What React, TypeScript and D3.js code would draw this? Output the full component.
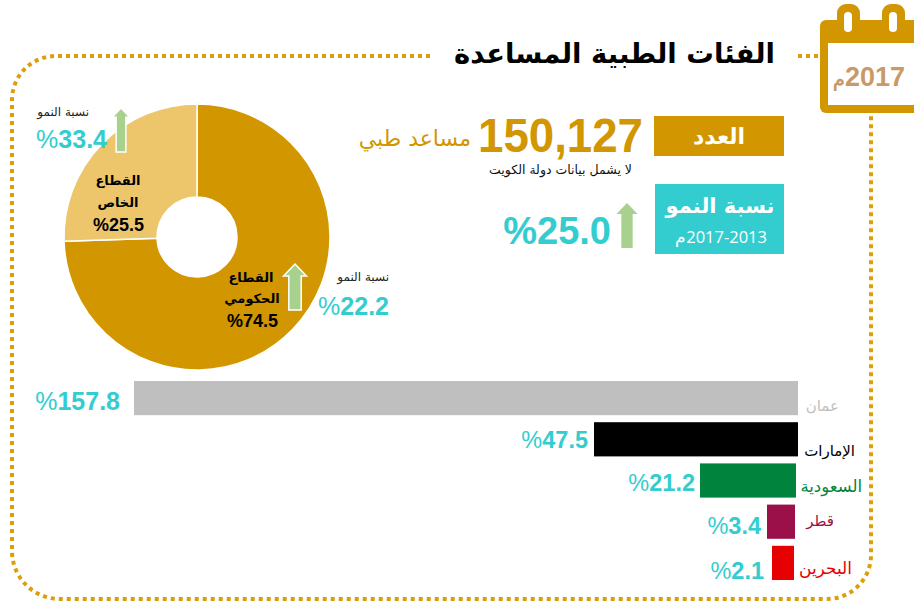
import * as d3 from "d3";
import React from "react";

const sectors = ["القطاع الحكومي", "القطاع الخاص"];
const sectorShare = [74.5, 25.5];
const sectorGrowth = [22.2, 33.4];

const countries = ["عمان", "الإمارات", "السعودية", "قطر", "البحرين"];
const countryGrowth = [157.8, 47.5, 21.2, 3.4, 2.1];
const countryColors = ["#bfbfbf", "#000000", "#00843d", "#9b1048", "#e60000"];

const total = "150,127";
const totalGrowth = 25.0;

const GOLD = "#d29600";
const TEAL = "#33cdcf";
const ARABIC = "'DejaVu Sans', 'Noto Sans', sans-serif";
const LATIN = "'Liberation Sans', Arial, sans-serif";

// bars are anchored to slightly different right edges in the original
const barRight = [798, 798, 796, 795, 794];
const labelGap = [14, 6, 5, 6, 8];
const valueDy = [29, 26, 28, 29, 33];
const labelX = [839, 855, 862, 834, 852];
const labelDy = [30, 34, 29, 21, 28];
const labelSize = [15, 15, 16.5, 15, 17];

const Arrow = ({x, y, w, h, stroke}: any) => {
  const head = w * 0.52;
  const shaft = w * 0.27;
  const path = d3.path();
  path.moveTo(x, y);
  path.lineTo(x + w / 2, y + head);
  path.lineTo(x + shaft, y + head);
  path.lineTo(x + shaft, y + h);
  path.lineTo(x - shaft, y + h);
  path.lineTo(x - shaft, y + head);
  path.lineTo(x - w / 2, y + head);
  path.closePath();
  return <path d={path.toString()} fill="#a9d18e" stroke={stroke} strokeWidth={stroke === "none" ? 0 : 1.5} />;
};

const Pct = ({x, y, size, value, signWeight = "400"}: any) => (
  <text x={x} y={y} textAnchor="end" fontFamily={LATIN} fill={TEAL} fontSize={size} fontWeight="700">
    <tspan fontWeight={signWeight}>%</tspan>{value.toFixed(1)}
  </text>
);

export default function App() {
  const pie = d3.pie<number>().sort(null)(sectorShare);
  const arc = d3.arc<d3.PieArcDatum<number>>().innerRadius(40).outerRadius(133);

  // the original bars are not to scale, so the scale follows their drawn lengths
  const barWidth = d3.scaleLinear()
    .domain([2.1, 3.4, 21.2, 47.5, 157.8])
    .range([22, 28, 96, 204, 664]);
  const barY = d3.scaleBand<number>()
    .domain(d3.range(countries.length))
    .range([381, 580])
    .paddingInner(0.17);

  const frame = d3.path();
  frame.moveTo(430, 56);
  frame.lineTo(56, 56);
  frame.arcTo(12, 56, 12, 100, 44);
  frame.lineTo(12, 551);
  frame.arcTo(12, 599, 60, 599, 48);
  frame.lineTo(827, 599);
  frame.arcTo(871, 599, 871, 555, 44);
  frame.lineTo(871, 115);

  return (
    <svg width={914} height={605} style={{position: "absolute", left: 0, top: 0, background: "#fff"}}>
      <path d={frame.toString()} fill="none" stroke="#dd9e0c" strokeWidth={4} strokeDasharray="4 4" />
      <line x1={798} x2={820} y1={56} y2={56} stroke="#dd9e0c" strokeWidth={4} strokeDasharray="4 4" />

      {/* calendar */}
      <rect x={820} y={20} width={110} height={93} rx={6} fill={GOLD} />
      <rect x={828} y={43} width={90} height={62} fill="#fff" />
      <rect x={837} y={4} width={23} height={32} rx={9} fill={GOLD} />
      <rect x={882} y={4} width={23} height={32} rx={9} fill={GOLD} />
      <rect x={844} y={12} width={8} height={20} rx={4} fill="#fff" />
      <rect x={889} y={12} width={8} height={20} rx={4} fill="#fff" />
      <text x={905} y={86} direction="rtl" textAnchor="start" fontFamily={LATIN} fontWeight="700" fontSize={27} fill="#c99a66">
        2017<tspan fontSize={19}>م</tspan>
      </text>

      <text x={775} y={63} textAnchor="end" fontFamily={ARABIC} fontWeight="700" fontSize={27.5} fill="#000">
        الفئات الطبية المساعدة
      </text>

      {/* count box */}
      <rect x={654} y={116} width={130} height={40} fill={GOLD} />
      <text x={719} y={144} textAnchor="middle" fontFamily={ARABIC} fontWeight="700" fontSize={22} fill="#fff">العدد</text>
      <text x={643} y={152} textAnchor="end" fontFamily={LATIN} fontWeight="700" fontSize={48} textLength={165} lengthAdjust="spacingAndGlyphs" fill={GOLD}>{total}</text>
      <text x={471} y={146} textAnchor="end" fontFamily={ARABIC} fontSize={22} fill={GOLD}>مساعد طبي</text>
      <text x={632} y={174} textAnchor="end" fontFamily={ARABIC} fontSize={12.5} fill="#111">لا يشمل بيانات دولة الكويت</text>

      {/* growth box */}
      <rect x={655} y={184} width={129} height={70} fill={TEAL} />
      <text x={720} y={213} textAnchor="middle" fontFamily={ARABIC} fontWeight="700" fontSize={21} fill="#fff">نسبة النمو</text>
      <text x={767} y={243} direction="rtl" textAnchor="start" fontFamily="'Open Sans', sans-serif" fontSize={16.5} fill="#fff">
        2017-2013م
      </text>
      <Arrow x={627} y={203} w={21} h={45} stroke="none" />
      <Pct x={611} y={244} size={38} value={totalGrowth} signWeight="700" />

      {/* donut */}
      <g transform="translate(197,237)">
        {pie.map((d, i) => (
          <path key={sectors[i]} d={arc(d) as string} fill={i === 0 ? GOLD : "#edc66c"} stroke="#fff" strokeWidth={1.5} />
        ))}
      </g>
      <g fontFamily={ARABIC} fontWeight="700" fontSize={13} textAnchor="middle" fill="#000">
        <text x={251} y={282}>{"القطاع"}</text>
        <text x={252} y={303}>{"الحكومي"}</text>
        <text x={118} y={185}>{"القطاع"}</text>
        <text x={118} y={207}>{"الخاص"}</text>
      </g>
      <g fontFamily={LATIN} fontWeight="700" fontSize={18} textAnchor="end" fill="#000">
        <text x={278} y={327}>%{sectorShare[0].toFixed(1)}</text>
        <text x={144} y={231}>%{sectorShare[1].toFixed(1)}</text>
      </g>
      <Arrow x={295} y={264} w={23} h={46} stroke="#fff" />
      <Arrow x={121} y={108} w={18} h={44} stroke="#fff" />
      <text x={389} y={281} textAnchor="end" fontFamily={ARABIC} fontSize={12} fill="#222">نسبة النمو</text>
      <text x={89} y={116} textAnchor="end" fontFamily={ARABIC} fontSize={12} fill="#222">نسبة النمو</text>
      <Pct x={389} y={315} size={25} value={sectorGrowth[0]} />
      <Pct x={107} y={148} size={25} value={sectorGrowth[1]} />

      {/* country bars */}
      {countries.map((c, i) => {
        const w = barWidth(countryGrowth[i]);
        const y = barY(i) as number;
        return (
          <g key={c}>
            <rect x={barRight[i] - w} y={y} width={w} height={barY.bandwidth()} fill={countryColors[i]} />
            <Pct x={barRight[i] - w - labelGap[i]} y={y + valueDy[i]} size={i === 0 ? 25 : 23.5} value={countryGrowth[i]} />
            <text x={labelX[i]} y={y + labelDy[i]} textAnchor="end" fontFamily={ARABIC} fontSize={labelSize[i]} fill={countryColors[i]}>{c}</text>
          </g>
        );
      })}
    </svg>
  );
}
